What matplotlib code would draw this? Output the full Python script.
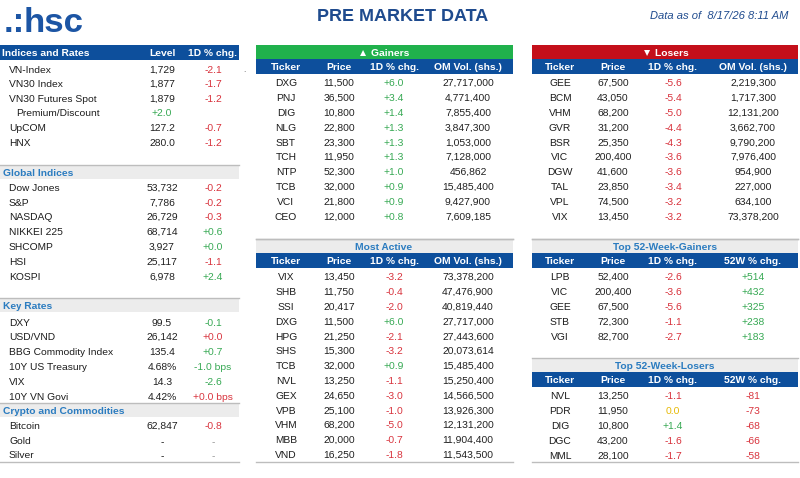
import matplotlib
matplotlib.use('Agg')
import matplotlib.pyplot as plt
from matplotlib.patches import Rectangle

plt.rcParams['font.family'] = ['Liberation Sans', 'DejaVu Sans']
plt.rcParams['text.hinting'] = 'native'

# ---- data -------------------------------------------------------------
idx_names = ['VN-Index', 'VN30 Index', 'VN30 Futures Spot', 'Premium/Discount', 'UpCOM', 'HNX']
idx_level = ['1,729', '1,877', '1,879', '+2.0', '127.2', '280.0']
idx_chg = ['-2.1', '-1.7', '-1.2', '', '-0.7', '-1.2']
idx_tone = ['down', 'down', 'down', 'up', 'down', 'down']

glob_names = ['Dow Jones', 'S&P', 'NASDAQ', 'NIKKEI 225', 'SHCOMP', 'HSI', 'KOSPI']
glob_level = ['53,732', '7,786', '26,729', '68,714', '3,927', '25,117', '6,978']
glob_chg = ['-0.2', '-0.2', '-0.3', '+0.6', '+0.0', '-1.1', '+2.4']
glob_tone = ['down', 'down', 'down', 'up', 'up', 'down', 'up']

rate_names = ['DXY', 'USD/VND', 'BBG Commodity Index', '10Y US Treasury', 'VIX', '10Y VN Govi']
rate_level = ['99.5', '26,142', '135.4', '4.68%', '14.3', '4.42%']
rate_chg = ['-0.1', '+0.0', '+0.7', '-1.0 bps', '-2.6', '+0.0 bps']
rate_tone = ['up', 'down', 'up', 'up', 'up', 'down']

crypto_names = ['Bitcoin', 'Gold', 'Silver']
crypto_level = ['62,847', '-', '-']
crypto_chg = ['-0.8', '-', '-']
crypto_tone = ['down', 'none', 'none']

gain_tk = ['DXG', 'PNJ', 'DIG', 'NLG', 'SBT', 'TCH', 'NTP', 'TCB', 'VCI', 'CEO']
gain_px = [11500, 36500, 10800, 22800, 23300, 11950, 52300, 32000, 21800, 12000]
gain_chg = [6.0, 3.4, 1.4, 1.3, 1.3, 1.3, 1.0, 0.9, 0.9, 0.8]
gain_vol = [27717000, 4771400, 7855400, 3847300, 1053000, 7128000, 456862, 15485400, 9427900, 7609185]

lose_tk = ['GEE', 'BCM', 'VHM', 'GVR', 'BSR', 'VIC', 'DGW', 'TAL', 'VPL', 'VIX']
lose_px = [67500, 43050, 68200, 31200, 25350, 200400, 41600, 23850, 74500, 13450]
lose_chg = [-5.6, -5.4, -5.0, -4.4, -4.3, -3.6, -3.6, -3.4, -3.2, -3.2]
lose_vol = [2219300, 1717300, 12131200, 3662700, 9790200, 7976400, 954900, 227000, 634100, 73378200]

act_tk = ['VIX', 'SHB', 'SSI', 'DXG', 'HPG', 'SHS', 'TCB', 'NVL', 'GEX', 'VPB', 'VHM', 'MBB', 'VND']
act_px = [13450, 11750, 20417, 11500, 21250, 15300, 32000, 13250, 24650, 25100, 68200, 20000, 16250]
act_chg = [-3.2, -0.4, -2.0, 6.0, -2.1, -3.2, 0.9, -1.1, -3.0, -1.0, -5.0, -0.7, -1.8]
act_vol = [73378200, 47476900, 40819440, 27717000, 27443600, 20073614, 15485400, 15250400,
           14566500, 13926300, 12131200, 11904400, 11543500]

w52g_tk = ['LPB', 'VIC', 'GEE', 'STB', 'VGI']
w52g_px = [52400, 200400, 67500, 72300, 82700]
w52g_chg = [-2.6, -3.6, -5.6, -1.1, -2.7]
w52g_pct = [514, 432, 325, 238, 183]

w52l_tk = ['NVL', 'PDR', 'DIG', 'DGC', 'MML']
w52l_px = [13250, 11950, 10800, 43200, 28100]
w52l_chg = [-1.1, 0.0, 1.4, -1.6, -1.7]
w52l_pct = [-81, -73, -68, -66, -58]

vol_head = ['Ticker', 'Price', '1D % chg.', 'OM Vol. (shs.)']
w52_head = ['Ticker', 'Price', '1D % chg.', '52W % chg.']

# ---- style --------------------------------------------------------------
NAVY = '#0d4f9c'
GREEN_BAR = '#20b14c'
RED_BAR = '#c40f1a'
SEC_BG = '#ececec'
SEC_LINE = '#bdbdbd'
SEC_TXT = '#2b7cc0'
TXT = '#1e1e1e'
UP = '#35a852'
DOWN = '#d8323c'
FLAT = '#e6b800'
FS = 7.4
BL = 3.7  # offset from row centre to text baseline (px)

tone_col = {'up': UP, 'down': DOWN, 'flat': FLAT, 'none': '#9a9a9a'}


def num_tone(v):
    if v > 0:
        return UP
    if v < 0:
        return DOWN
    return FLAT


def fmt_chg(v):
    return '0.0' if v == 0 else '{:+.1f}'.format(v)


def put(x, y, s, ha='left', **kw):
    # y is the row centre; snap the baseline to a whole pixel so a row lines up
    kw.setdefault('fontsize', FS)
    kw.setdefault('color', TXT)
    ax.text(round(x), round(y + BL), s, ha=ha, va='baseline', **kw)


fig = plt.figure(figsize=(8, 4.78), dpi=100)
ax = fig.add_axes([0, 0, 1, 1])
ax.set_xlim(0, 800)
ax.set_ylim(478, 0)
ax.axis('off')

# ---- top banner ---------------------------------------------------------
ax.text(4, 32, '.:', fontsize=25, fontweight='bold', color='#1c55a4', va='baseline', ha='left')
ax.text(24, 32, 'hsc', fontsize=25, fontweight='bold', color='#1c55a4', va='baseline', ha='left')
ax.text(403, 21, 'PRE MARKET DATA', fontsize=13, fontweight='bold', color='#1f4b8e',
        ha='center', va='baseline')
ax.text(788, 19, 'Data as of  8/17/26 8:11 AM', fontsize=8, style='italic', color='#1f4b8e',
        ha='right', va='baseline')
ax.text(244, 72, '.', fontsize=6, color='#777777', ha='center', va='baseline')

# ---- left panel ---------------------------------------------------------
LX0, LX1 = 0, 239
LEVEL_X, CHG_X = 162, 213

ax.add_patch(Rectangle((LX0, 45), LX1 - LX0, 15, color=NAVY, lw=0))
put(2, 52.5, 'Indices and Rates', fontweight='bold', color='white')
put(LEVEL_X, 52.5, 'Level', ha='center', fontweight='bold', color='white')
put(CHG_X, 52.5, '1D % chg.', ha='center', fontweight='bold', color='white')


def section(y_top, title):
    ax.add_patch(Rectangle((LX0, y_top), LX1 - LX0, 14, color=SEC_BG, lw=0))
    ax.plot([LX0, LX1], [y_top, y_top], color=SEC_LINE, lw=1)
    put(3, y_top + 7, title, fontweight='bold', color=SEC_TXT)


def left_rows(y0, names, levels, chgs, tones, step=14.8):
    for i, (n, lv, ch, t) in enumerate(zip(names, levels, chgs, tones)):
        y = y0 + i * step
        indent = 16 if n == 'Premium/Discount' else 9
        put(indent, y, n)
        lv_col = tone_col[t] if n == 'Premium/Discount' else TXT
        put(LEVEL_X, y, lv, ha='center', color=lv_col)
        put(CHG_X, y, ch, ha='center', color=tone_col[t])


left_rows(69, idx_names, idx_level, idx_chg, idx_tone, step=14.6)
section(165, 'Global Indices')
left_rows(187, glob_names, glob_level, glob_chg, glob_tone)
section(298, 'Key Rates')
left_rows(322, rate_names, rate_level, rate_chg, rate_tone)
section(403, 'Crypto and Commodities')
left_rows(425, crypto_names, crypto_level, crypto_chg, crypto_tone)
ax.plot([LX0, LX1], [462, 462], color=SEC_LINE, lw=1)


# ---- ticker tables -----------------------------------------------------
def table(x0, x1, cols, y_bar, bar_color, title, title_color, heads, rows, bottom=None):
    ax.add_patch(Rectangle((x0, y_bar), x1 - x0, 14, color=bar_color, lw=0))
    if bar_color == SEC_BG:
        ax.plot([x0, x1], [y_bar, y_bar], color=SEC_LINE, lw=1)
    put((x0 + x1) / 2, y_bar + 7, title, ha='center', fontweight='bold', color=title_color)
    yh = y_bar + 14
    ax.add_patch(Rectangle((x0, yh), x1 - x0, 15, color=NAVY, lw=0))
    for cx, h in zip(cols, heads):
        put(cx, yh + 7.5, h, ha='center', fontweight='bold', color='white')
    for i, cells in enumerate(rows):
        y = yh + 23.5 + i * 14.83
        for cx, (s, c) in zip(cols, cells):
            put(cx, y, s, ha='center', color=c)
    if bottom is not None:
        ax.plot([x0, x1], [bottom, bottom], color=SEC_LINE, lw=1)


def vol_rows(tk, px, chg, vol):
    return [[(t, TXT), ('{:,}'.format(p), TXT), (fmt_chg(c), num_tone(c)), ('{:,}'.format(v), TXT)]
            for t, p, c, v in zip(tk, px, chg, vol)]


def w52_rows(tk, px, chg, pct):
    return [[(t, TXT), ('{:,}'.format(p), TXT), (fmt_chg(c), num_tone(c)), ('{:+d}'.format(q), num_tone(q))]
            for t, p, c, q in zip(tk, px, chg, pct)]


MID = (256, 513)
MID_COLS = [286, 339, 394, 468]
RGT = (532, 798)
RGT_COLS = [560, 613, 673, 753]

table(MID[0], MID[1], MID_COLS, 45, GREEN_BAR, '\u25b2 Gainers', 'white', vol_head,
      vol_rows(gain_tk, gain_px, gain_chg, gain_vol), bottom=239)
table(RGT[0], RGT[1], RGT_COLS, 45, RED_BAR, '\u25bc Losers', 'white', vol_head,
      vol_rows(lose_tk, lose_px, lose_chg, lose_vol), bottom=239)
table(MID[0], MID[1], MID_COLS, 239, SEC_BG, 'Most Active', SEC_TXT, vol_head,
      vol_rows(act_tk, act_px, act_chg, act_vol), bottom=462)
table(RGT[0], RGT[1], RGT_COLS, 239, SEC_BG, 'Top 52-Week-Gainers', SEC_TXT, w52_head,
      w52_rows(w52g_tk, w52g_px, w52g_chg, w52g_pct))
table(RGT[0], RGT[1], RGT_COLS, 358, SEC_BG, 'Top 52-Week-Losers', SEC_TXT, w52_head,
      w52_rows(w52l_tk, w52l_px, w52l_chg, w52l_pct), bottom=462)

fig.savefig('out.png', dpi=100, facecolor='white')
